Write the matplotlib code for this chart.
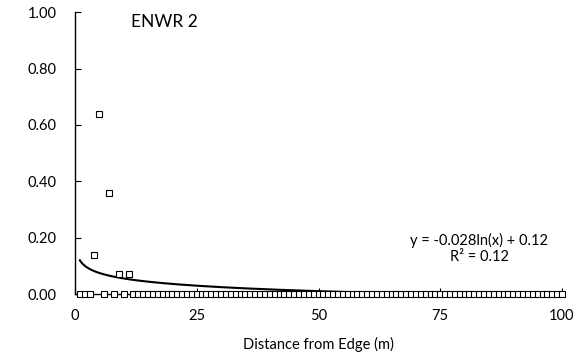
import matplotlib
matplotlib.use("Agg")
import matplotlib.pyplot as plt
import numpy as np

plt.rcParams["font.family"] = ["Lato", "DejaVu Sans"]

# distance from edge (m), 1..100
distance = list(range(1, 101))
# proportion at each distance: zero except a few near the edge
nonzero = {4: 0.14, 5: 0.64, 7: 0.36, 9: 0.07, 11: 0.07}
proportion = [nonzero.get(d, 0.0) for d in distance]

# log trendline coefficients as printed on the chart
slope = -0.028
intercept = 0.12
r_squared = 0.12

x_ticks = [0, 25, 50, 75, 100]
y_ticks = [0.0, 0.2, 0.4, 0.6, 0.8, 1.0]

fig = plt.figure(figsize=(5.77, 3.60), dpi=100)
ax = fig.add_axes([0.130, 0.183, 0.844, 0.783])

xs = np.linspace(1, 100, 400)
ax.plot(xs, slope * np.log(xs) + intercept, color="black", lw=1.5, zorder=2)
ax.plot(distance, proportion, linestyle="none", marker="s", ms=3.8,
        mfc="white", mec="black", mew=0.8, zorder=3, clip_on=False)

ax.set_xlim(0, 100)
ax.set_ylim(0, 1.0)
ax.set_xticks(x_ticks)
ax.set_yticks(y_ticks)
ax.set_yticklabels([f"{v:.2f}" for v in y_ticks])
ax.tick_params(direction="in", length=4, width=0.8, labelsize=10.5)
ax.tick_params(axis="y", pad=13)
ax.tick_params(axis="x", pad=11)
ax.spines["top"].set_visible(False)
ax.spines["right"].set_visible(False)
for s in ("left", "bottom"):
    ax.spines[s].set_linewidth(1.0)

ax.set_xlabel("Distance from Edge (m)", fontsize=10.5, labelpad=10)
ax.text(0.115, 0.965, "ENWR 2", transform=ax.transAxes, fontsize=12.5,
        ha="left", va="center")
ax.text(0.83, 0.19, f"y = {slope:.3f}ln(x) + {intercept:.2f}",
        transform=ax.transAxes, fontsize=10.5, ha="center", va="center")
ax.text(0.83, 0.13, f"R² = {r_squared:.2f}",
        transform=ax.transAxes, fontsize=10.5, ha="center", va="center")

fig.savefig("out.png", dpi=100)
